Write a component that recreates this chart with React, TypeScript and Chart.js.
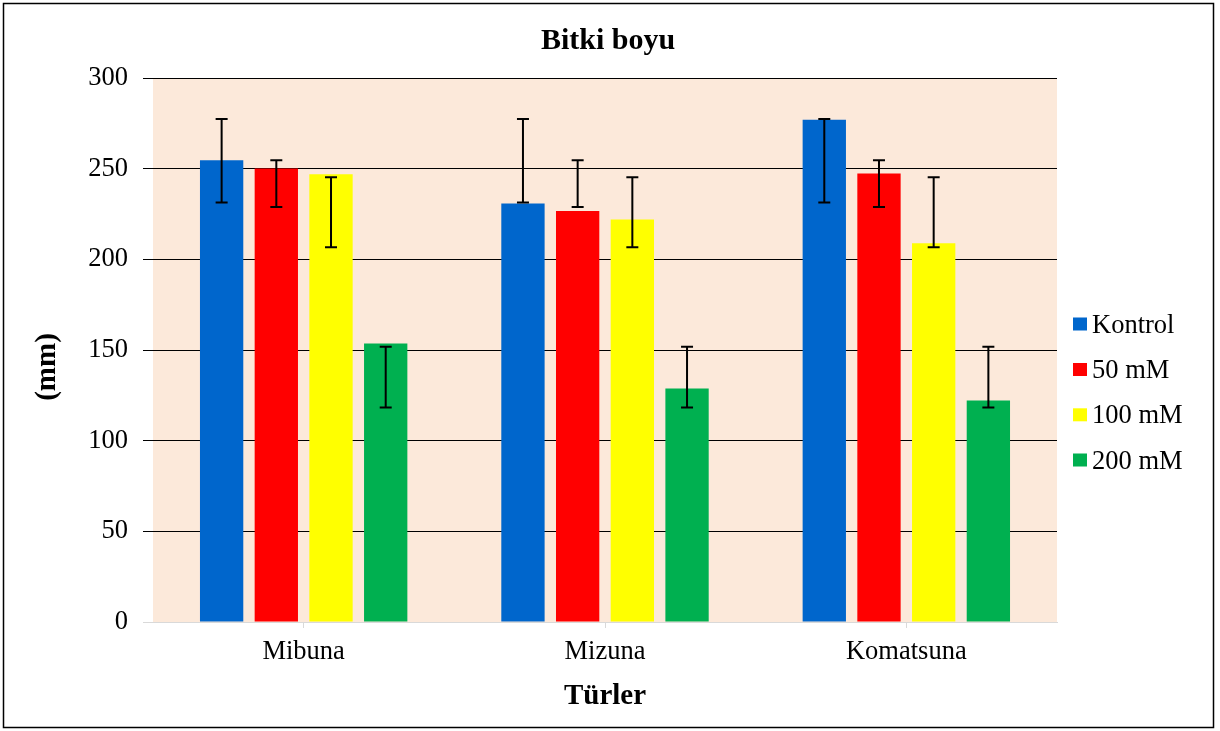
import React, { useEffect, useRef } from 'react';
import { Chart, registerables } from 'chart.js';

Chart.register(...registerables);

const categories = ['Mibuna', 'Mizuna', 'Komatsuna'];
const seriesLabels = ['Kontrol', '50 mM', '100 mM', '200 mM'];
const seriesColors = ['#0066CC', '#FF0000', '#FFFF00', '#00B050'];

const kontrolValues = [254.6, 230.8, 277.0];
const mM50Values = [250.1, 226.7, 247.3];
const mM100Values = [246.9, 222.0, 208.9];
const mM200Values = [153.6, 128.8, 122.2];

// error bar ends (absolute values)
const kontrolErrHigh = [277.4, 277.4, 277.4];
const kontrolErrLow = [231.3, 231.3, 231.3];
const mM50ErrHigh = [254.6, 254.6, 254.6];
const mM50ErrLow = [228.9, 228.9, 228.9];
const mM100ErrHigh = [245.3, 245.3, 245.3];
const mM100ErrLow = [206.7, 206.7, 206.7];
const mM200ErrHigh = [151.8, 151.8, 151.8];
const mM200ErrLow = [118.3, 118.3, 118.3];

const yMin = 0;
const yMax = 300;
const yStep = 50;

const chartTitle = 'Bitki boyu';
const xTitle = 'Türler';
const yTitle = '(mm)';

const FONT = '"Liberation Serif", "Times New Roman", serif';

const seriesValues = [kontrolValues, mM50Values, mM100Values, mM200Values];
const errHigh = [kontrolErrHigh, mM50ErrHigh, mM100ErrHigh, mM200ErrHigh];
const errLow = [kontrolErrLow, mM50ErrLow, mM100ErrLow, mM200ErrLow];

const backgroundPlugin = {
  id: 'bgPlugin',
  beforeDraw(chart: any) {
    const { ctx, chartArea, width, height } = chart;
    ctx.save();
    ctx.fillStyle = '#FFFFFF';
    ctx.fillRect(0, 0, width, height);
    ctx.fillStyle = '#FCE9DA';
    ctx.fillRect(chartArea.left, chartArea.top, chartArea.right - chartArea.left, chartArea.bottom - chartArea.top);
    ctx.strokeStyle = '#000000';
    ctx.lineWidth = 1.5;
    ctx.strokeRect(3.5, 3.5, width - 10, height - 7);
    ctx.restore();
  },
};

const errorBarPlugin = {
  id: 'errorBars',
  afterDatasetsDraw(chart: any) {
    const { ctx } = chart;
    const yScale = chart.scales.y;
    ctx.save();
    ctx.strokeStyle = '#000000';
    ctx.lineWidth = 2;
    chart.data.datasets.forEach((_ds: any, i: number) => {
      const meta = chart.getDatasetMeta(i);
      meta.data.forEach((bar: any, j: number) => {
        const x = bar.x;
        const yH = yScale.getPixelForValue(errHigh[i][j]);
        const yL = yScale.getPixelForValue(errLow[i][j]);
        const cap = 6;
        ctx.beginPath();
        ctx.moveTo(x, yH);
        ctx.lineTo(x, yL);
        ctx.moveTo(x - cap, yH);
        ctx.lineTo(x + cap, yH);
        ctx.moveTo(x - cap, yL);
        ctx.lineTo(x + cap, yL);
        ctx.stroke();
      });
    });
    ctx.restore();
  },
};

const titleLegendPlugin = {
  id: 'titleLegend',
  afterDraw(chart: any) {
    const { ctx } = chart;
    ctx.save();
    ctx.fillStyle = '#000000';
    ctx.font = `bold 30px ${FONT}`;
    ctx.textAlign = 'center';
    ctx.textBaseline = 'alphabetic';
    ctx.fillText(chartTitle, 608, 49);

    // y-axis title, rotated
    ctx.save();
    ctx.translate(48, 367);
    ctx.rotate(-Math.PI / 2);
    ctx.font = `bold 29px ${FONT}`;
    ctx.textAlign = 'center';
    ctx.textBaseline = 'middle';
    ctx.fillText(yTitle, 0, 0);
    ctx.restore();

    ctx.font = `26.5px ${FONT}`;
    ctx.textAlign = 'left';
    const rowY = [324, 369.5, 414.8, 460];
    chart.data.datasets.forEach((ds: any, i: number) => {
      const cy = rowY[i];
      ctx.fillStyle = ds.backgroundColor;
      ctx.fillRect(1073, cy - 6.5, 14, 13);
      ctx.fillStyle = '#000000';
      ctx.fillText(ds.label, 1092, cy + 8.5);
    });
    ctx.restore();
  },
};

export default function App() {
  const canvasRef = useRef<HTMLCanvasElement | null>(null);

  useEffect(() => {
    document.body.style.margin = '0';
    const canvas = canvasRef.current;
    if (!canvas) return;
    Chart.defaults.font.family = FONT;
    Chart.defaults.color = '#000000';

    const chart = new Chart(canvas, {
      type: 'bar',
      data: {
        labels: categories,
        datasets: seriesLabels.map((label, i) => ({
          label,
          data: seriesValues[i],
          backgroundColor: seriesColors[i],
          borderWidth: 0,
          categoryPercentage: 0.726,
          barPercentage: 0.792,
        })),
      },
      options: {
        responsive: false,
        animation: false,
        layout: { padding: { left: 25, right: 163, top: 78, bottom: 10 } },
        plugins: {
          legend: { display: false },
          title: { display: false },
          tooltip: { enabled: false },
        },
        scales: {
          x: {
            offset: true,
            grid: {
              display: true,
              drawOnChartArea: false,
              drawTicks: true,
              tickLength: 6,
              color: '#D9D9D9',
              offset: false,
            },
            border: { display: true, color: '#D9D9D9', width: 1 },
            ticks: { font: { size: 26.5 }, color: '#000000', padding: 8, maxRotation: 0 },
            title: {
              display: true,
              text: xTitle,
              font: { size: 29, weight: 'bold' },
              color: '#000000',
              padding: { top: 0, bottom: 7 },
            },
            afterFit(scale: any) {
              scale.height = 99;
            },
          },
          y: {
            min: yMin,
            max: yMax,
            ticks: { stepSize: yStep, font: { size: 26.5 }, color: '#000000', padding: 15 },
            grid: {
              color: (c: any) => (c.tick && c.tick.value === 0 ? '#D9D9D9' : '#000000'),
              lineWidth: 1,
              tickLength: 10,
              drawTicks: true,
            },
            border: { display: false },
            title: { display: false },
            afterFit(scale: any) {
              scale.width = 128;
            },
          },
        },
      } as any,
      plugins: [backgroundPlugin, errorBarPlugin, titleLegendPlugin],
    });

    return () => {
      chart.destroy();
    };
  }, []);

  return (
    <div style={{ width: 1220, height: 731 }}>
      <canvas ref={canvasRef} width={1220} height={731} style={{ display: 'block' }} />
    </div>
  );
}
